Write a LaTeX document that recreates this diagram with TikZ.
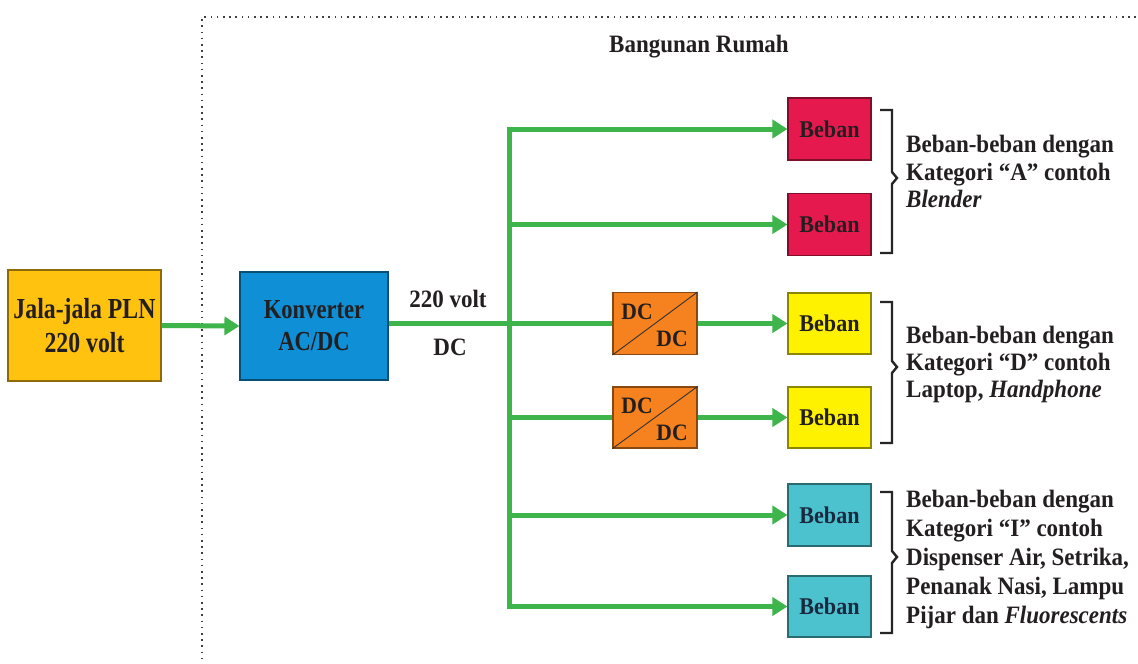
\documentclass[tikz,border=0pt]{standalone}
\usepackage{fontspec}
\setmainfont{Liberation Serif}
\newfontfamily\fcond[FakeStretch=0.82]{Liberation Serif}
\newfontfamily\fnarr[FakeStretch=0.92]{Liberation Serif}
\usetikzlibrary{arrows.meta}
\definecolor{gline}{HTML}{3DB54A}
\definecolor{cjala}{HTML}{FFC20E}
\definecolor{ckonv}{HTML}{0E8FD6}
\definecolor{cred}{HTML}{E6194F}
\definecolor{cyel}{HTML}{FFF200}
\definecolor{ccyan}{HTML}{4DC2CF}
\definecolor{corange}{HTML}{F5821F}
\definecolor{ctxt}{HTML}{231F20}
\definecolor{cnavy}{HTML}{1A2940}
\tikzset{
  boxbase/.style={draw=#1!55!black, line width=1.1pt, fill=#1, inner sep=0pt, text=ctxt, align=center},
  beban/.style={boxbase=#1, minimum width=83pt, minimum height=62pt, font=\fnarr\fontsize{24}{28}\selectfont\bfseries},
  dcbox/.style={boxbase=corange, minimum width=84pt, minimum height=62pt},
  dctxt/.style={inner sep=0pt, text=ctxt, font=\fnarr\fontsize{23.5}{26}\selectfont\bfseries},
  flow/.style={draw=gline, line width=5pt, -{Triangle[length=15pt,width=18pt]}},
  wire/.style={draw=gline, line width=5pt},
  brk/.style={draw=black!85, line width=2.4pt, line join=miter},
  lbl/.style={inner sep=0pt, anchor=base west, text=ctxt, font=\fnarr\fontsize{25}{29}\selectfont\bfseries},
  plain/.style={inner sep=0pt, text=ctxt, font=\fnarr\fontsize{25}{29}\selectfont\bfseries},
}
\begin{document}
\begin{tikzpicture}[x=1pt,y=-1pt]
\useasboundingbox (0,0) rectangle (1138,664);
\fill[white] (0,0) rectangle (1138,664);

% house boundary
\draw[black!75, line width=1.6pt, dash pattern=on 1.6pt off 4.6pt] (1136,17) -- (202,17) -- (202,664);
\node[plain, anchor=base] (house) at (699,52) {Bangunan Rumah};

% source and converter
\node[boxbase=cjala, minimum width=153pt, minimum height=111pt, font=\fcond\fontsize{29}{34}\selectfont\bfseries] (jala) at (84.5,325.5) {Jala-jala PLN\\220 volt};
\node[boxbase=ckonv, minimum width=148pt, minimum height=108pt, font=\fcond\fontsize{27.5}{32}\selectfont\bfseries] (konv) at (314,326) {Konverter\\AC/DC};
\node[plain, anchor=base] (v220) at (448,307) {220 volt};
\node[plain, anchor=base] (vdc) at (450,355) {DC};

% loads
\node[beban=cred] (A1) at (829.5,129) {Beban};
\node[beban=cred] (A2) at (829.5,224.5) {Beban};
\node[beban=cyel, minimum height=61pt] (D1) at (829.5,323.5) {Beban};
\node[beban=cyel, minimum height=61pt] (D2) at (829.5,417.5) {Beban};
\node[beban=ccyan, text=cnavy] (I1) at (829.5,515) {Beban};
\node[beban=ccyan, text=cnavy, minimum height=61pt] (I2) at (829.5,606.5) {Beban};

% DC/DC converters
\node[dcbox] (DC1) at (655,323.5) {};
\node[dcbox, minimum height=61pt] (DC2) at (655,417.5) {};
\draw[black!80, line width=0.9pt] (DC1.south west) -- (DC1.north east);
\draw[black!80, line width=0.9pt] (DC2.south west) -- (DC2.north east);
\node[dctxt] (dc1a) at ([shift={(-18,-12)}]DC1.center) {DC};
\node[dctxt] (dc1b) at ([shift={(17,15)}]DC1.center) {DC};
\node[dctxt] (dc2a) at ([shift={(-18,-12)}]DC2.center) {DC};
\node[dctxt] (dc2b) at ([shift={(17,15)}]DC2.center) {DC};

% bus coordinates
\coordinate (bA1) at (509,129);
\coordinate (bA2) at (509,224.5);
\coordinate (bD1) at (509,323.5);
\coordinate (bD2) at (509,417.5);
\coordinate (bI1) at (509,515);
\coordinate (bI2) at (509,606.5);

% connectors
\draw[flow] (jala.east) -- (konv.west);
\draw[wire, line cap=rect] (bA1) -- (bI2);
\draw[wire] (konv.east |- bD1) -- (DC1.west);
\draw[wire] (bD2) -- (DC2.west);
\draw[flow] (bA1) -- (A1.west);
\draw[flow] (bA2) -- (A2.west);
\draw[flow] (DC1.east) -- (D1.west);
\draw[flow] (DC2.east) -- (D2.west);
\draw[flow] (bI1) -- (I1.west);
\draw[flow] (bI2) -- (I2.west);

% brackets
\draw[brk] (880,110) -- (892,110) -- (892,172) -- (897,178) -- (892,184) -- (892,253) -- (880,253);
\draw[brk] (880,302) -- (892,302) -- (892,361) -- (897,367) -- (892,373) -- (892,443) -- (880,443);
\draw[brk] (880,492) -- (892,492) -- (892,551) -- (897,557) -- (892,563) -- (892,633) -- (880,633);

% category texts
\node[lbl] (ta1) at (906,152) {Beban-beban dengan};
\node[lbl] (ta2) at (906,180) {Kategori “A” contoh};
\node[lbl] (ta3) at (906,207.5) {\itshape Blender};
\node[lbl] (td1) at (906,343) {Beban-beban dengan};
\node[lbl] (td2) at (906,370) {Kategori “D” contoh};
\node[lbl] (td3) at (906,397) {Laptop, \itshape Handphone};
\node[lbl] (ti1) at (906,507) {Beban-beban dengan};
\node[lbl] (ti2) at (906,536) {Kategori “I” contoh};
\node[lbl] (ti3) at (906,565) {Dispenser Air, Setrika,};
\node[lbl] (ti4) at (906,594) {Penanak Nasi, Lampu};
\node[lbl] (ti5) at (906,623) {Pijar dan \itshape Fluorescents};
\end{tikzpicture}
\end{document}
